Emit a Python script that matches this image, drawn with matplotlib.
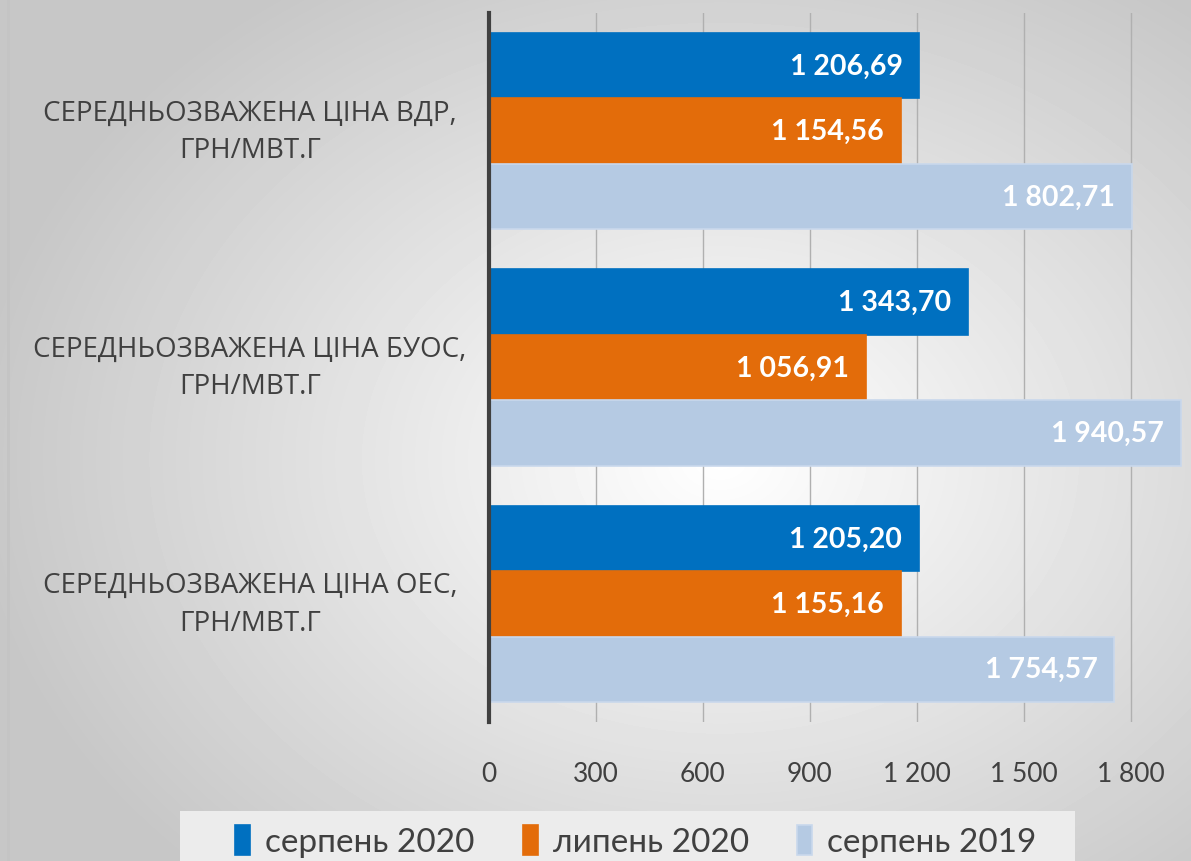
import numpy as np
import matplotlib
matplotlib.use("Agg")
import matplotlib.pyplot as plt
import matplotlib.transforms as mtransforms
from matplotlib.patches import Rectangle

# Data
categories = ["СЕРЕДНЬОЗВАЖЕНА ЦІНА ВДР,\nГРН/МВТ.Г",
              "СЕРЕДНЬОЗВАЖЕНА ЦІНА БУОС,\nГРН/МВТ.Г",
              "СЕРЕДНЬОЗВАЖЕНА ЦІНА ОЕС,\nГРН/МВТ.Г"]
series_names = ["серпень 2020", "липень 2020", "серпень 2019"]
aug_2020 = [1206.69, 1343.70, 1205.20]
jul_2020 = [1154.56, 1056.91, 1155.16]
aug_2019 = [1802.71, 1940.57, 1754.57]
xticks = [0, 300, 600, 900, 1200, 1500, 1800]

colors = ["#0070C0", "#E36C0A", "#B5CAE3"]
edges = ["#0070C0", "#E36C0A", "#C9D8EC"]

plt.rcParams['font.family'] = ['Lato', 'DejaVu Sans']

fig = plt.figure(figsize=(11.91, 8.62), dpi=100)

# radial gray background
bg = fig.add_axes([0, 0, 1, 1], zorder=-10)
yy, xx = np.mgrid[0:862, 0:1191]
r = np.sqrt(((xx - 720) / 850.0) ** 2 + ((yy - 460) / 650.0) ** 2)
shade = np.clip(1.0 - 0.25 * r, 0.78, 1.0)
bg.imshow(shade, cmap="gray", vmin=0, vmax=1, aspect="auto", interpolation="bilinear")
bg.axvline(7, color="#c4c4c4", linewidth=2)
bg.axis("off")

ax = fig.add_axes([489 / 1191, 1 - 723 / 862, (1187 - 489) / 1191, (723 - 14) / 862])
ax.patch.set_alpha(0)

y = np.arange(len(categories))
h = 0.277
values = [aug_2020, jul_2020, aug_2019]
for i, vals in enumerate(values):
    pos = y - h + i * h
    bars = ax.barh(pos, vals, height=h, color=colors[i], edgecolor=edges[i],
                   linewidth=1.2, zorder=3, label=series_names[i])
    for b, v in zip(bars, vals):
        txt = "{:,.2f}".format(v).replace(",", " ").replace(".", ",")
        ax.annotate(txt, (v, b.get_y() + b.get_height() / 2), xytext=(-12, 0),
                    textcoords="offset points", ha="right", va="center",
                    color="white", fontsize=20.5, fontweight="bold", zorder=4)

ax.set_xlim(0, 1958)
ax.set_ylim(2.5, -0.5)
ax.set_xticks(xticks)
ax.set_xticklabels(["{:,}".format(t).replace(",", " ") for t in xticks],
                   fontsize=19, color="#404040")
ax.tick_params(axis="x", length=0, pad=28)
ax.set_yticks([])
ax.grid(axis="x", color="#b0b0b0", linewidth=1, zorder=0)
for s in ["top", "right", "bottom"]:
    ax.spines[s].set_visible(False)
ax.spines["left"].set_color("#404040")
ax.spines["left"].set_linewidth(3)
ax.spines["left"].set_zorder(5)

trans = mtransforms.blended_transform_factory(fig.transFigure, ax.transData)
for yi, cat in zip(y, categories):
    fig.text(250 / 1191, yi, cat, transform=trans, ha="center", va="center",
             fontsize=20, color="#404040", linespacing=1.45,
             family=["Open Sans", "DejaVu Sans"])

# legend box
fig.patches.append(Rectangle((180 / 1191, 0), (1075 - 180) / 1191, 50 / 862,
                             transform=fig.transFigure, facecolor="#ececec",
                             edgecolor="none", zorder=-5))
leg = fig.legend(loc="center", bbox_to_anchor=(636 / 1191, 20 / 862), ncol=3,
                 frameon=False, fontsize=24, handlelength=0.45, handleheight=1.0,
                 handletextpad=0.45, columnspacing=1.45, labelcolor="#404040")

fig.savefig("out.png", dpi=100)
